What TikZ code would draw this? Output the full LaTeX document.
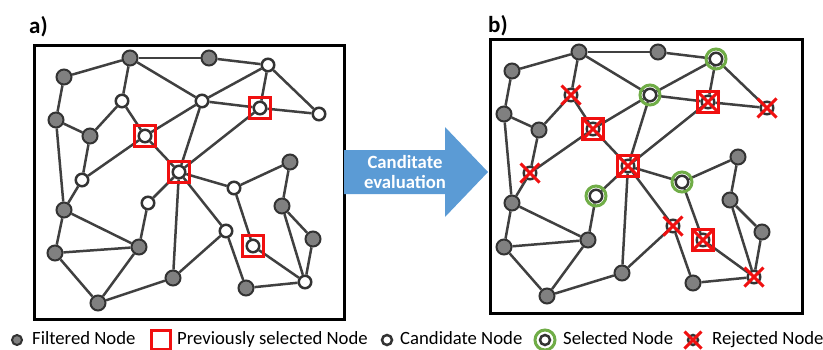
\documentclass[tikz,border=0pt]{standalone}
\usepackage{fontspec}
\setmainfont{Carlito}
\usepackage{tikz}
\usetikzlibrary{shapes.geometric,shapes.misc}
\definecolor{edgegray}{HTML}{404040}
\definecolor{nodegray}{HTML}{808080}
\definecolor{nodeborder}{HTML}{333333}
\definecolor{markred}{HTML}{F01010}
\definecolor{selgreen}{HTML}{70AD47}
\definecolor{evalblue}{HTML}{5B9BD5}
\tikzstyle{filtered} = [circle, draw=nodeborder, fill=nodegray, line width=2, minimum size=15, inner sep=0]
\tikzstyle{candidate} = [circle, draw=nodeborder, fill=white, line width=2.5, minimum size=12.5, inner sep=0]
\tikzstyle{prevbox} = [rectangle, draw=markred, line width=3, minimum size=21, inner sep=0]
\tikzstyle{selring} = [circle, draw=selgreen, line width=3, minimum size=20, inner sep=0]
\tikzstyle{rejcross} = [cross out, draw=markred, line width=3, minimum size=16, inner sep=0]
\tikzstyle{edge} = [draw=edgegray, line width=2.5]
\tikzstyle{frame} = [draw=black, line width=3]
\tikzstyle{legendtext} = [anchor=base west, inner sep=0, font=\fontsize{18.7}{22}\selectfont]
\tikzstyle{panellabel} = [anchor=base west, inner sep=0, font=\bfseries\fontsize{23}{26}\selectfont]

\begin{document}
\begin{tikzpicture}[x=1pt, y=-1pt]
\useasboundingbox (0,0) rectangle (823,349);

% panel a
\node (labela) [panellabel] at (29,33) {a)};
\node (framea) [frame, rectangle, minimum width=310, minimum height=274, anchor=north west] at (33,44) {};
\node (a1) [filtered] at (130,58) {};
\node (a2) [filtered] at (209,58) {};
\node (a3) [candidate] at (268,65) {};
\node (a4) [filtered] at (64,77) {};
\node (a5) [candidate] at (122,101) {};
\node (a6) [candidate] at (202,101) {};
\node (a7) [candidate] at (260,108) {};
\node (a8) [candidate] at (319,114) {};
\node (a9) [filtered] at (56,120) {};
\node (a10) [filtered] at (90,136) {};
\node (a11) [candidate] at (145,136) {};
\node (a12) [candidate] at (179,172) {};
\node (a13) [filtered] at (290,162) {};
\node (a14) [candidate] at (82,180) {};
\node (a15) [candidate] at (234,188) {};
\node (a16) [candidate] at (148,203) {};
\node (a17) [filtered] at (282,206) {};
\node (a18) [filtered] at (64,210) {};
\node (a19) [candidate] at (226,231) {};
\node (a20) [filtered] at (313,239) {};
\node (a21) [filtered] at (139,247) {};
\node (a22) [candidate] at (253,246) {};
\node (a23) [filtered] at (55,253) {};
\node (a24) [filtered] at (173,278) {};
\node (a25) [candidate] at (305,282) {};
\node (a26) [filtered] at (246,288) {};
\node (a27) [filtered] at (98,303) {};

% panel b
\node (labelb) [panellabel] at (488,32) {b)};
\node (frameb) [frame, rectangle, minimum width=312, minimum height=274, anchor=north west] at (489,38) {};
\node (b1) [filtered] at (579,52) {};
\node (b2) [filtered] at (658,52) {};
\node (b3) [candidate] at (716,59) {};
\node (b4) [filtered] at (512,71) {};
\node (b5) [candidate] at (571,95) {};
\node (b6) [candidate] at (650,95) {};
\node (b7) [candidate] at (708,102) {};
\node (b8) [candidate] at (767,108) {};
\node (b9) [filtered] at (504,114) {};
\node (b10) [filtered] at (539,130) {};
\node (b11) [candidate] at (593,129) {};
\node (b12) [candidate] at (628,166) {};
\node (b13) [filtered] at (738,157) {};
\node (b14) [candidate] at (530,173) {};
\node (b15) [candidate] at (682,182) {};
\node (b16) [candidate] at (596,196) {};
\node (b17) [filtered] at (730,200) {};
\node (b18) [filtered] at (512,203) {};
\node (b19) [candidate] at (673,226) {};
\node (b20) [filtered] at (762,232) {};
\node (b21) [filtered] at (588,240) {};
\node (b22) [candidate] at (703,240) {};
\node (b23) [filtered] at (504,247) {};
\node (b24) [filtered] at (622,273) {};
\node (b25) [candidate] at (754,277) {};
\node (b26) [filtered] at (693,283) {};
\node (b27) [filtered] at (547,296) {};

\foreach \u/\v in {1/2, 2/3, 1/4, 1/5, 1/6, 3/6, 3/7, 3/8, 6/7, 7/8, 4/9, 9/10, 9/18,
  5/10, 5/11, 6/11, 11/12, 10/14, 11/14, 6/12, 7/12, 12/15, 12/16, 12/24, 12/19,
  13/15, 15/22, 13/17, 17/20, 17/25, 20/25, 22/25, 25/26, 19/26, 19/24, 16/21,
  14/18, 18/21, 18/23, 21/23, 23/27, 21/27, 24/27}
{
  \draw [edge] (a\u) -- (a\v);
  \draw [edge] (b\u) -- (b\v);
}

% marks
\foreach \n in {7,11,12,22} \node (boxa\n) [prevbox] at (a\n) {};
\foreach \n in {7,11,12,22} \node (boxb\n) [prevbox] at (b\n) {};
\foreach \n in {7,11,12,22} \node (crossb\n) [rejcross, minimum size=19] at (b\n) {};
\foreach \n in {5,8,14,19,25} \node (crossb\n) [rejcross] at (b\n) {};
\foreach \n in {3,6,15,16} \node (ringb\n) [selring] at (b\n) {};

% arrow
\fill [evalblue] (344,150) -- (445,150) -- (445,127) -- (488,172) -- (445,217) -- (445,194) -- (344,194) -- cycle;
\node (evaltext) [align=center, text=white, font=\bfseries\fontsize{18.7}{20.5}\selectfont] at (405,172) {Canditate\\evaluation};

% legend
\node (legfiltered) [filtered, minimum size=10] at (17,340) {};
\node (txtfiltered) [legendtext] at (32,344.5) {Filtered Node};
\node (legprev) [prevbox, minimum size=19] at (161,340) {};
\node (txtprev) [legendtext] at (177,344.5) {Previously selected Node};
\node (legcand) [candidate, minimum size=10] at (387,340) {};
\node (txtcand) [legendtext] at (400,344.5) {Candidate Node};
\node (legsel) [candidate, minimum size=10] at (545,340) {};
\node (legselring) [selring] at (545,340) {};
\node (txtsel) [legendtext] at (563,344.5) {Selected Node};
\node (legrej) [candidate, minimum size=10] at (693,340) {};
\node (legrejcross) [rejcross, minimum size=14] at (693,340) {};
\node (txtrej) [legendtext] at (712,344.5) {Rejected Node};
\end{tikzpicture}
\end{document}
